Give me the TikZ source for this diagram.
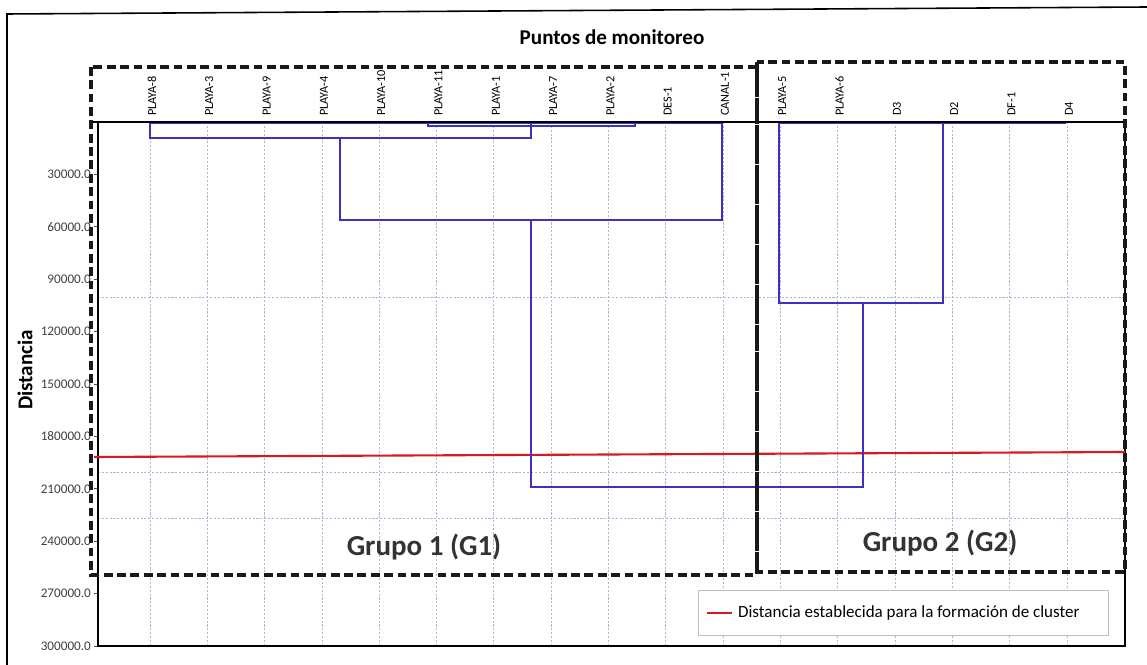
\documentclass[tikz,border=0pt]{standalone}
\usepackage{fontspec}
\setmainfont{Carlito}
\usetikzlibrary{positioning}
\definecolor{dendro}{RGB}{60,50,190}
\definecolor{rejillac}{RGB}{175,180,210}
\definecolor{corte}{RGB}{215,25,35}

\begin{document}
\begin{tikzpicture}[x=0.02cm,y=-0.02cm,
  dendro/.style={draw=dendro,line width=0.9pt},
  grupo/.style={draw=black!90,line width=1.9pt,dash pattern=on 5pt off 2.6pt},
  rejilla/.style={draw=rejillac,line width=0.35pt,dash pattern=on 1.2pt off 1pt},
  hoja/.style={font=\fontsize{7}{8}\selectfont,rotate=90,anchor=west,inner sep=1pt},
  marca/.style={font=\fontsize{7.5}{8}\selectfont,text=black!75,anchor=east,inner sep=1pt}]
  \useasboundingbox (0,0) rectangle (1147,665);
  \draw[line width=0.9pt] (7,665) -- (7,14) -- (1147,7);
  \node[font=\bfseries\fontsize{12}{14}\selectfont] (titulo) at (612,37) {Puntos de monitoreo};
  \node[font=\bfseries\fontsize{12}{14}\selectfont,rotate=90] (eje) at (25,370) {Distancia};
  % rejilla y puntos
  \foreach \h [count=\i from 0] in {PLAYA-8,PLAYA-3,PLAYA-9,PLAYA-4,PLAYA-10,PLAYA-11,PLAYA-1,PLAYA-7,PLAYA-2,DES-1,CANAL-1,PLAYA-5,PLAYA-6,D3,D2,DF-1,D4} {
    \draw[rejilla] (150+\i*57.3,122) -- (150+\i*57.3,646);
    \node[hoja] (h\i) at (152+\i*57.3,118) {\h};
  }
  \foreach \y in {297,472,518} \draw[rejilla] (98,\y) -- (1125,\y);
  \foreach \v in {1,...,10} {
    \draw[black!70] (94,122+\v*52.4) -- (98,122+\v*52.4);
    \node[marca] (t\v) at (93,122+\v*52.4) {\the\numexpr\v*30000\relax.0};
  }
  \draw[line width=0.8pt] (98,122) -- (98,646) -- (1125,646) -- (1125,122);
  % distancia de corte
  \draw[corte,line width=1.2pt] (94,457) -- (1125,452);
  % dendrograma
  \draw[dendro] (150,123.5) -- (722,123.5) (779,123.5) -- (1066,123.5);
  \draw[dendro] (428,122) -- (428,126) -- (635,126) -- (635,122);
  \draw[dendro] (150,122) -- (150,138) -- (531,138) -- (531,122);
  \draw[dendro] (340,138) -- (340,220) -- (722,220) -- (722,122);
  \draw[dendro] (531,220) -- (531,487) -- (863,487) -- (863,303);
  \draw[dendro] (779,122) -- (779,303) -- (943,303) -- (943,122);
  \draw[line width=1pt] (91,122) -- (1125,122);
  % grupos
  \draw[grupo] (91,67) rectangle (757,575);
  \draw[grupo] (757,62) rectangle (1125,572);
  \node[font=\bfseries\fontsize{16.5}{18}\selectfont,text=black!80] (g1) at (424,547) {Grupo 1 (G1)};
  \node[font=\bfseries\fontsize{16.5}{18}\selectfont,text=black!80] (g2) at (940,543) {Grupo 2 (G2)};
  % leyenda
  \draw[black!25,fill=white] (698,590) rectangle (1108,635);
  \draw[corte,line width=1.2pt] (707,613) -- (732,613);
  \node[anchor=west,font=\fontsize{9.7}{11}\selectfont,inner sep=1pt] (leyenda) at (736,613) {Distancia establecida para la formación de cluster};
\end{tikzpicture}
\end{document}
